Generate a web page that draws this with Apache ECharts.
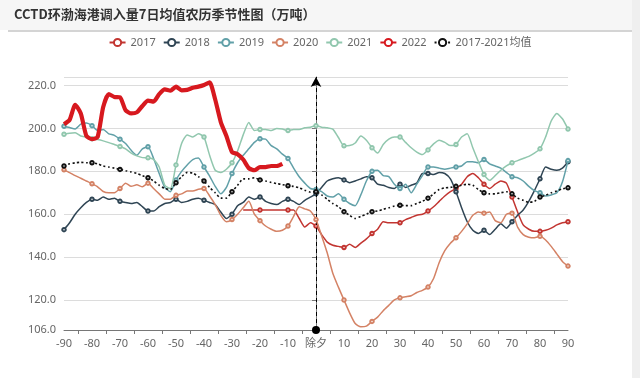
<!DOCTYPE html>
<html>
<head>
<meta charset="utf-8">
<script src="https://cdn.jsdelivr.net/npm/echarts@6/dist/echarts.min.js"></script>
<style>
html,body{margin:0;padding:0;background:#fff;}
#wrap{position:relative;width:640px;height:378px;overflow:hidden;background:#fff;}
#band{position:absolute;left:0;top:0;width:640px;height:30px;background:#f6f6f6;}
#rule{position:absolute;left:8px;top:30px;width:624px;height:2px;background:#d4d4d4;}
#side{position:absolute;left:632px;top:0;width:8px;height:378px;background:#efefef;}
#chart{position:absolute;left:0;top:0;width:640px;height:378px;}
</style>
</head>
<body>
<div id="wrap">
<div id="band"></div><div id="rule"></div><div id="side"></div>
<div id="chart"></div>
</div>
<script>
// Lunar-calendar day offsets relative to 除夕 (sampled every 2 days)
const days = Array.from({length: 91}, (_, i) => -90 + 2 * i);
const tickLabelZero = '除夕';
const seriesNames = ['2017','2018','2019','2020','2021','2022','2017-2021均值'];

const y2017 = [
  null,null,null,null,null,null,null,null,null,null,
  null,null,null,null,null,null,null,null,null,null,
  null,null,null,null,null,null,null,null,null,null,
  null,null,162,162,162,162,162,162,162,162,
  162,162,158,154,156,154.5,150.5,147,145.5,145,
  144.5,146,144.5,146.5,148.5,151,153,156.5,156,156,
  156,157.5,158.5,159.5,160,161.5,163.5,166,168.5,170.5,
  172,174,177.5,179,177,174,172,174,175.5,174.5,
  168,161,155,153,152,152,152.5,153.5,155,156,
  156.5
];
const y2018 = [
  152.8,156,160,163,165.5,167,166.5,168,167,167.5,
  166,165.5,165,165.5,163.5,161.5,161.5,163.5,165,165.5,
  167,165.5,166,167,167.5,166.5,165.5,164.5,161,158,
  160,164,165.5,168,167,168,166,165,164.5,166,
  167,166,164.5,166.5,168,169.5,172.5,175.5,176.5,177,
  176,174.7,175.5,176.5,177.5,177,174,173.5,172.5,172,
  174,172.5,173.5,174.5,179,179,178.5,179.5,179,176.5,
  170.5,163,156.5,152.5,151,152.5,150.5,153,155.5,153.5,
  156.5,159.5,162,166,171,176.5,182,181,180.5,181.5,
  184.5
];
const y2019 = [
  201,200.4,199.8,202,202.5,201.3,199,199.5,197.5,196.8,
  195,193,189.8,187.5,190.5,191.5,186,179,172.5,170.5,
  176,180,183,185.5,186.2,182,177.8,173,169.5,172.5,
  179,184,187.5,190.5,193.5,195.2,195,192,190.5,188,
  186,181.5,177.5,174.5,172,171.5,170.5,168.5,168,169.5,
  167,165,164,169,175.5,180,180.5,178,177.5,174,
  172,174,170,174,178,182,182,181.5,181,181.5,
  182,182.5,184.5,184.5,184,185.5,183.5,182.5,181.5,179.5,
  177.5,177,175.5,173,171,170,168.5,169,170,175,
  185
];
const y2020 = [
  180.7,179.4,178,176.8,175.5,174.2,172.8,170.6,170,170,
  172,174.5,173,173.7,172.8,174.5,172,169.5,167,167,
  168.8,169.5,170.8,170.8,171.6,172,168.5,164.5,159.5,156.5,
  157.5,160,163,166,160,157,154.5,153,152,152.5,
  154.5,159,163.5,162.5,161.5,157.5,150,142,132.5,126,
  120,114,109,107.5,107.8,110,112,115,117.5,120,
  121,121.5,122,123.5,124.5,126,130,137.5,143,146.5,
  149,152,155.5,159.5,161,160.5,161,157,156,160,
  160.5,154,150.5,149.3,149,149.7,148,145,141.5,138,
  135.8
];
const y2021 = [
  197.3,197.8,198,196.5,196,195.2,194.8,194.2,193.4,192.5,
  191.6,190.5,188.5,187.2,186.4,186.3,185.6,182,173.5,172,
  183,193,197,196,197.5,196,187.5,180.5,179.5,181,
  184,189.5,197,202.8,199,199.5,199.5,199,200,199.7,
  199,199.5,199.5,200.3,200.6,201.3,200.6,200.3,199.7,195.8,
  191.9,192,193.2,196.5,194.5,191,188.5,192.5,195,196,
  196,193.5,191,189,187.8,190,192.8,194.5,193.5,192,
  192.5,196,197.5,191,184.5,178.5,175.8,178,180.5,182.5,
  184,185,186,187,188.5,190.5,196,203.5,207,204.5,
  199.7
];
const y2022 = [
  202,204,211,207,196.5,195,196,210,216,214.7,
  214.5,208.5,207,207.5,210.5,213,212.5,216,218.2,217.6,
  219.5,217.8,218,219,219.5,220.3,221.5,213.5,203,196.5,
  189,188,185.5,181.5,180.5,182,182,182.5,182.5,183.5,
  null,null,null,null,null,null,null,null,null,null,
  null,null,null,null,null,null,null,null,null,null,
  null,null,null,null,null,null,null,null,null,null,
  null,null,null,null,null,null,null,null,null,null,
  null,null,null,null,null,null,null,null,null,null,
  null
];
const yMean = [
  182.5,183.5,184,184.2,184,184,183.5,182.5,182,181.5,
  180.9,180.3,179.7,179,178,177,175.5,173.5,172,171.5,
  174.7,177.5,179.5,179.2,177.5,175.5,172.5,170,167.5,167.5,
  170.5,173.5,176.5,176.5,177,176,175.5,174.8,174.3,173.8,
  173.3,173,172.3,171.2,170.3,170.5,169,167,165,163.5,
  161.2,159.5,158,159,160,161.2,161.5,162.3,163,163.8,
  164.2,164,164,165,166,167.5,169.5,171.5,172.3,172.5,
  173,173.5,174,173.5,171.5,170,169.5,169.5,170,170.5,
  169.5,167.5,166.5,165.5,166,168,168.8,170,170.8,171.8,
  172.3
];

const colors = ['#c23531','#2f4554','#61a0a8','#d48265','#91c7ae','#d7191f','#111111'];
const allY = [y2017, y2018, y2019, y2020, y2021, y2022, yMean];
const pair = arr => days.map((d, i) => [d, arr[i]]);
const symSize = v => (v[0] % 10 === 0 ? 3.5 : 0);

const series = allY.map((arr, k) => {
  const s = {
    name: seriesNames[k],
    type: 'line',
    data: pair(arr),
    smooth: 0.2,
    symbol: 'emptyCircle',
    symbolSize: symSize,
    showSymbol: true,
    connectNulls: false,
    itemStyle: {color: colors[k], borderWidth: 1},
    lineStyle: {color: colors[k], width: 1.5},
    emphasis: {disabled: true},
    z: 2 + k
  };
  if (k === 5) { s.lineStyle.width = 4.2; s.symbolSize = 0; }
  if (k === 6) {
    s.lineStyle = {color: colors[k], width: 1.6, type: [2, 2.5]};
    s.markLine = {
      silent: true,
      symbol: ['circle', 'arrow'],
      symbolSize: [8, 10],
      label: {show: false},
      lineStyle: {color: '#000', type: [4, 3], width: 1},
      data: [{xAxis: 0}]
    };
  }
  return s;
});

const chart = echarts.init(document.getElementById('chart'), null, {renderer: 'canvas'});
chart.setOption({
  backgroundColor: 'transparent',
  animation: false,
  textStyle: {fontFamily: '"Noto Sans", "Noto Sans CJK SC", sans-serif'},
  title: {
    text: 'CCTD环渤海港调入量7日均值农历季节性图（万吨）',
    left: 14, top: 8, padding: 0,
    textStyle: {fontSize: 13, fontWeight: 'bold', color: '#333', fontFamily: '"Noto Sans CJK SC", sans-serif'}
  },
  legend: {
    data: seriesNames,
    top: 32,
    left: 'center',
    itemWidth: 16, itemHeight: 9, itemGap: 7,
    textStyle: {fontSize: 11, color: '#666', fontFamily: '"Noto Sans", "Noto Sans CJK SC", sans-serif'}
  },
  grid: {left: 64, right: 72, top: 77, bottom: 48, containLabel: false},
  xAxis: {
    type: 'value', min: -90, max: 90, interval: 10,
    axisLine: {lineStyle: {color: '#777', width: 1}},
    axisTick: {show: true, length: 4, lineStyle: {color: '#777'},
      customValues: [-85,-75,-65,-55,-45,-35,-25,-15,-5,5,15,25,35,45,55,65,75,85]},
    axisLabel: {color: '#666', fontSize: 11, margin: 8,
      formatter: v => (v === 0 ? tickLabelZero : String(v))},
    splitLine: {show: false}
  },
  yAxis: {
    type: 'value', min: 106, max: 224,
    axisLine: {show: true, lineStyle: {color: '#777'}},
    axisTick: {show: true, length: 4, lineStyle: {color: '#777'}},
    axisLabel: {color: '#666', fontSize: 11, margin: 8, showMaxLabel: false,
      formatter: v => v.toFixed(1)},
    splitLine: {show: true, lineStyle: {color: '#dcdcdc', width: 1}}
  },
  series: series
});
</script>
</body>
</html>
